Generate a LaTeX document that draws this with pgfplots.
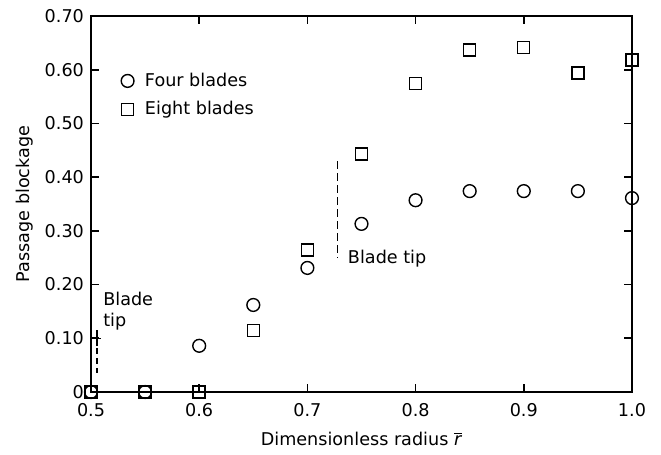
\documentclass[border=0pt]{standalone}
\usepackage{pgfplots}
\pgfplotsset{compat=1.18}
\usepackage{fontspec}
\setmainfont{DejaVu Sans}
\newcommand{\fs}{\fontsize{8.8}{10.5}\selectfont}
\begin{document}
\begin{tikzpicture}
\useasboundingbox (-45.5pt,-31.5pt) rectangle (285pt,196pt);
\begin{axis}[
  scale only axis, width=270.5pt, height=188pt,
  xmin=0.5, xmax=1.0, ymin=0, ymax=0.70,
  axis line style={line width=1pt},
  xtick={0.5,0.6,0.7,0.8,0.9,1.0},
  xticklabels={0.5,0.6,0.7,0.8,0.9,1.0},
  ytick={0,0.1,0.2,0.3,0.4,0.5,0.6,0.7},
  yticklabels={0,0.10,0.20,0.30,0.40,0.50,0.60,0.70},
  tick align=inside, major tick length=4pt,
  tick style={line width=0.8pt, black},
  tick label style={font=\fs},
  xticklabel style={yshift=-2pt},
  /pgf/number format/assume math mode=true,
  xlabel={Dimensionless radius $\overline{\mbox{\textit{r}}}$},
  ylabel={Passage blockage},
  label style={font=\fs},
  xlabel style={yshift=-1pt},
  ylabel style={yshift=-1pt},
  clip=false,
  legend style={draw=none, fill=none, at={(axis cs:0.522,0.61)}, anchor=north west,
    font=\fs, row sep=2pt},
  legend cell align=left,
]
\addplot[only marks, mark=o, mark size=3.2pt, line width=0.7pt] coordinates {
  (0.50,0) (0.55,0) (0.60,0.086) (0.65,0.162) (0.70,0.231) (0.75,0.313)
  (0.80,0.357) (0.85,0.374) (0.90,0.374) (0.95,0.374) (1.00,0.361)};
\addlegendentry{\kern3.5pt Four blades}
\addplot[only marks, mark=square, mark size=3pt, line width=0.7pt] coordinates {
  (0.50,0) (0.55,0) (0.60,0) (0.65,0.114) (0.70,0.264) (0.75,0.443)
  (0.80,0.574) (0.85,0.637) (0.90,0.641) (0.95,0.594) (1.00,0.618)};
\addlegendentry{\kern3.5pt Eight blades}
% blade tip markers
\draw[dash pattern=on 4pt off 2pt, line width=0.6pt] (axis cs:0.728,0.43) -- (axis cs:0.728,0.25);
\node[anchor=west, font=\fs] at (axis cs:0.731,0.248) {Blade tip};
\draw[dash pattern=on 3pt off 2pt, line width=0.6pt] (axis cs:0.5055,0.10) -- (axis cs:0.5055,0.035);
\draw[line width=0.6pt] (axis cs:0.5055,0.115) -- (axis cs:0.5055,0.085);
\draw[line width=0.6pt] (axis cs:0.5015,0.10) -- (axis cs:0.5095,0.10);
\node[anchor=south west, align=left, inner sep=0pt, font=\fs] at (axis cs:0.511,0.115) {Blade\\tip};
\end{axis}
\end{tikzpicture}
\end{document}
